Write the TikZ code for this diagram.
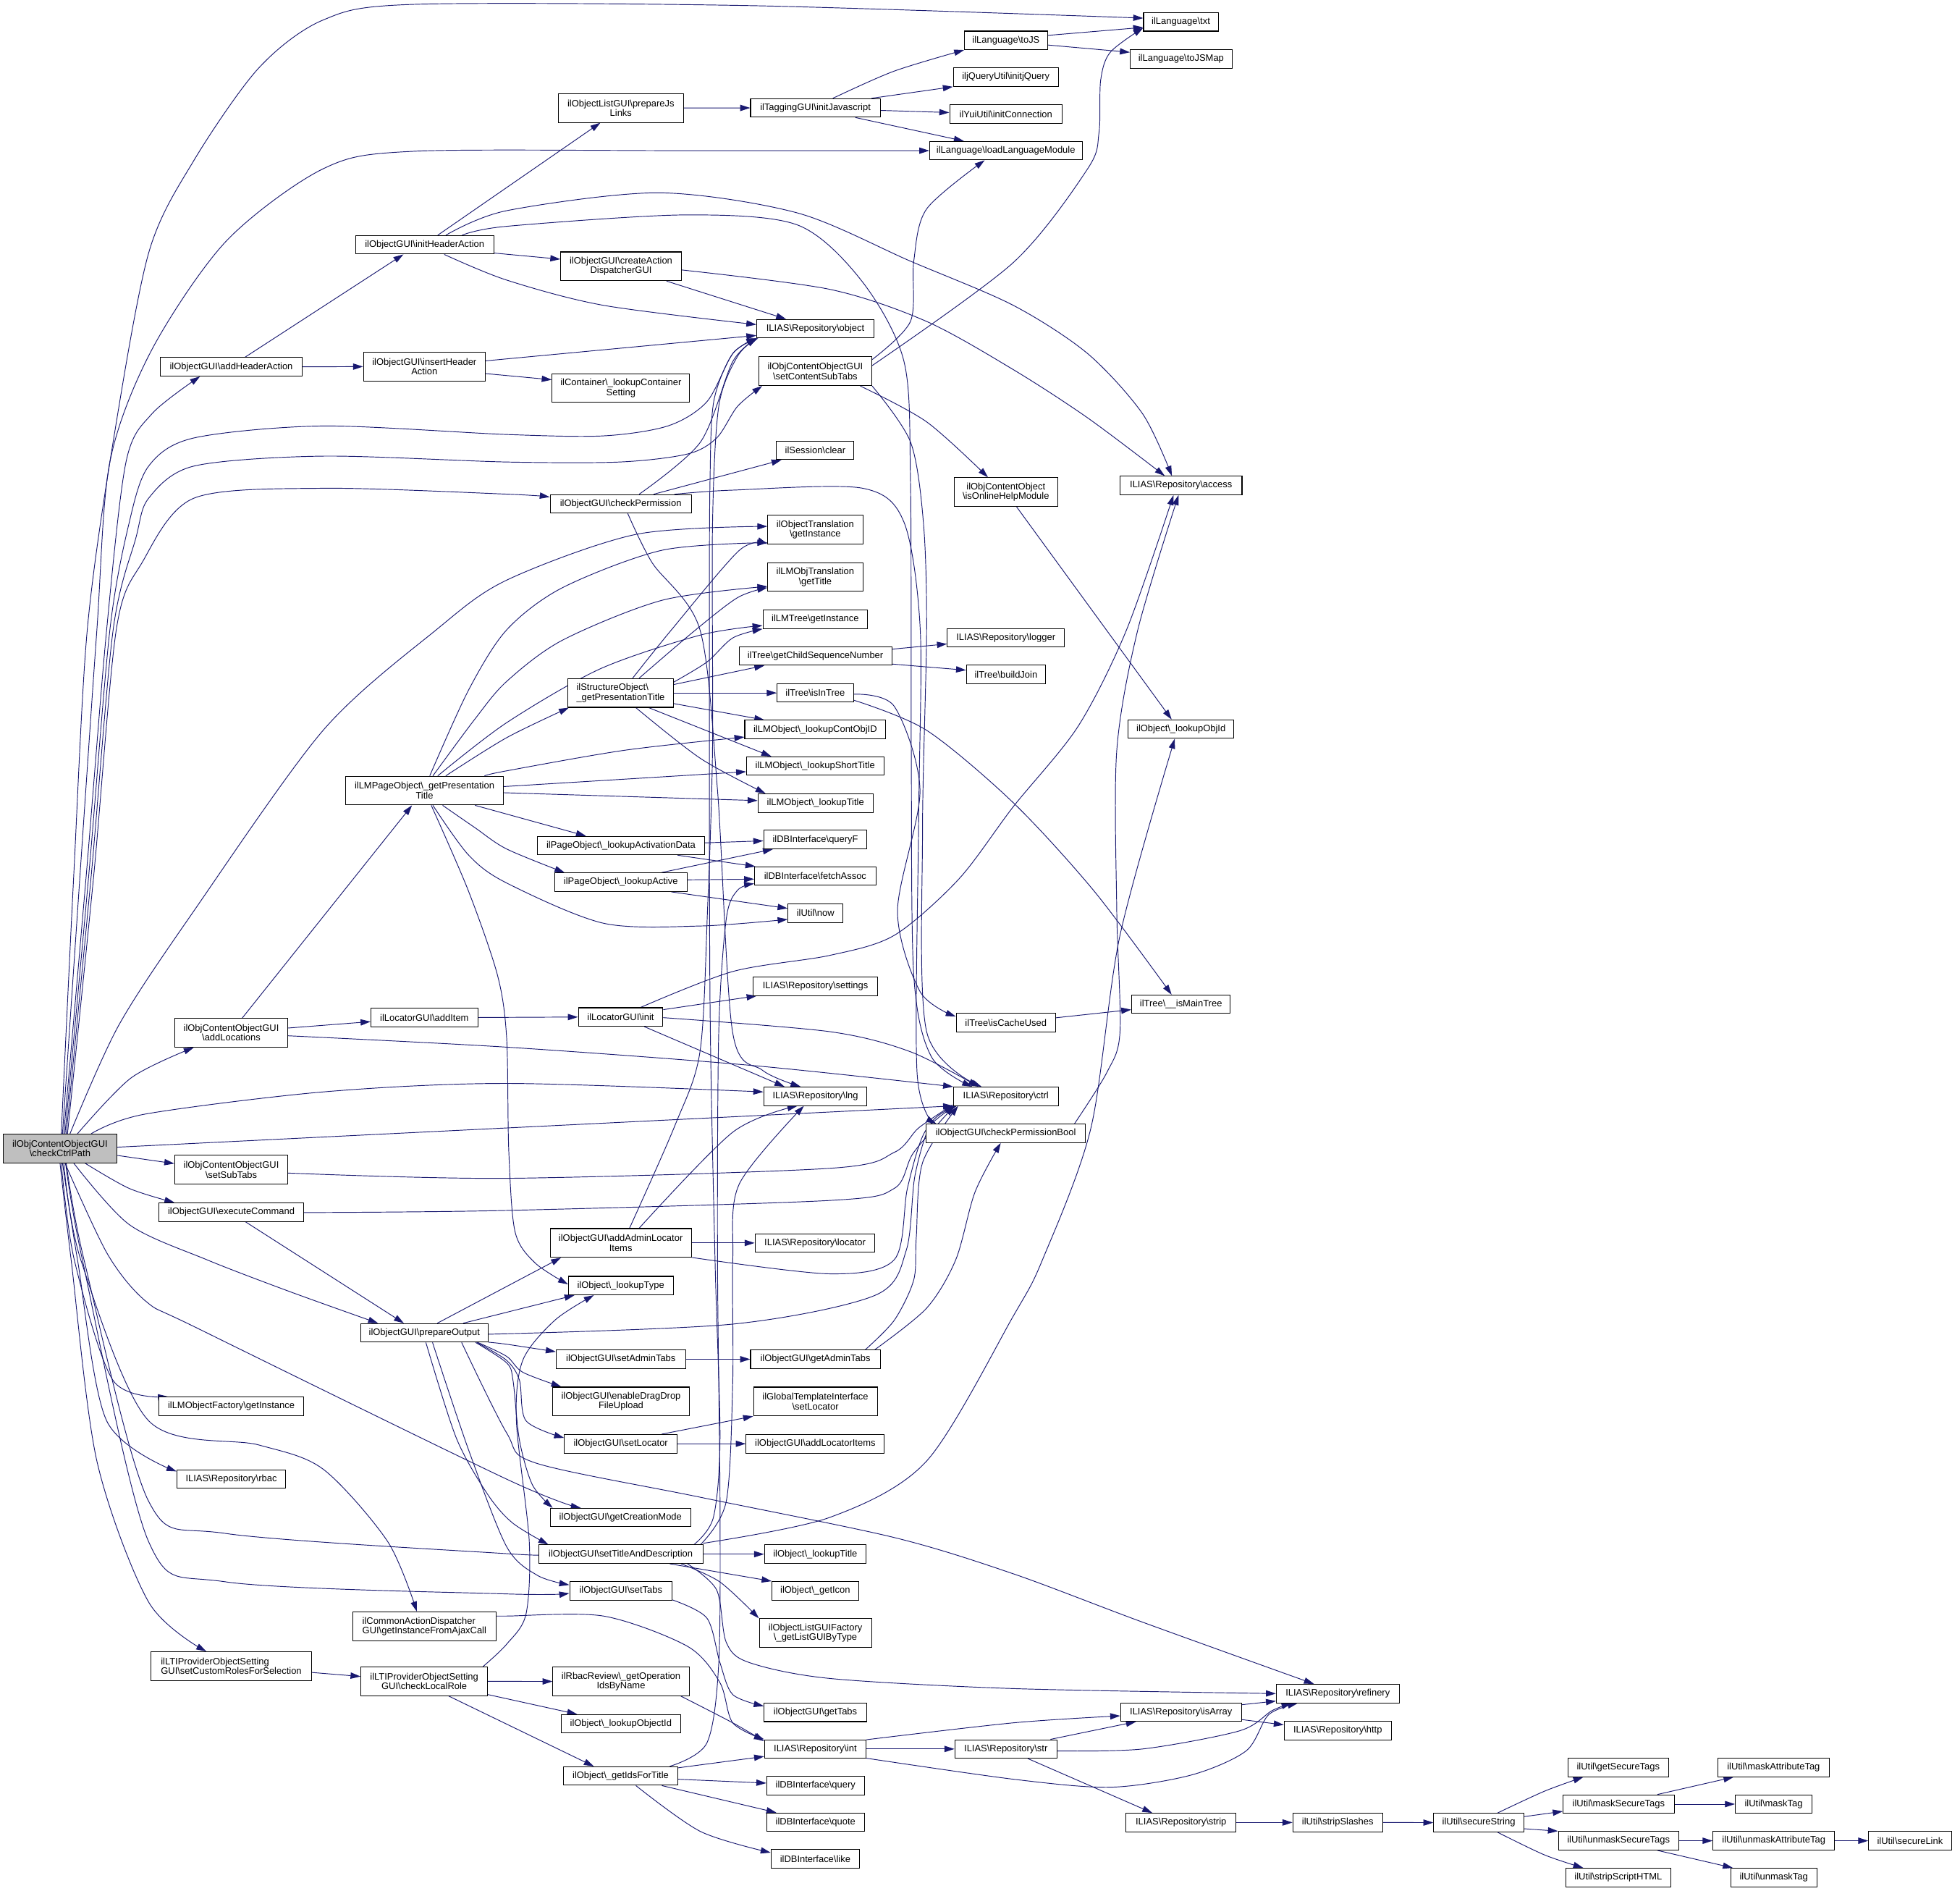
\documentclass[tikz,border=0pt]{standalone}
\usepackage{fontspec}
\setmainfont{Liberation Sans}
\usetikzlibrary{arrows.meta}
\definecolor{edgec}{HTML}{191970}
\definecolor{rootfill}{HTML}{BFBFBF}
\newcommand{\BS}{\textbackslash{}}
\pgfdeclarelayer{bg}
\pgfsetlayers{bg,main}
\begin{document}
\begin{tikzpicture}[x=1pt,y=-1pt,
  nd/.style={draw=black, line width=0.6pt, inner sep=0pt, minimum height=14.8pt, align=center, fill=white, font=\fontsize{7.5}{7.8}\selectfont},
  two/.style={minimum height=23pt},
  lft/.style={align=left},
  edg/.style={draw=edgec, line width=0.55pt, -{Triangle[length=8pt,width=5pt]}}]
\useasboundingbox (0,0) rectangle (1568,1512.4);
% column 1
\node[nd,two,fill=rootfill,minimum width=91pt] (root) at (48,918.5) {ilObjContentObjectGUI\\\BS checkCtrlPath};
% column 2
\node[nd,minimum width=113pt] (addHdr) at (185,293.4) {ilObjectGUI\BS addHeaderAction};
\node[nd,two,minimum width=90.5pt] (addLoc) at (185,826) {ilObjContentObjectGUI\\\BS addLocations};
\node[nd,two,minimum width=90.5pt] (setSub) at (185,935.6) {ilObjContentObjectGUI\\\BS setSubTabs};
\node[nd,minimum width=116pt] (execCmd) at (185,969.5) {ilObjectGUI\BS executeCommand};
\node[nd,minimum width=116pt] (lmFact) at (185,1124.7) {ilLMObjectFactory\BS getInstance};
\node[nd,minimum width=87pt] (rbac) at (185,1183) {ILIAS\BS Repository\BS rbac};
\node[nd,two,lft,minimum width=128pt] (setCust) at (185,1332.5) {ilLTIProviderObjectSetting\\GUI\BS setCustomRolesForSelection};
% column 3
\node[nd,minimum width=110.6pt] (initHdr) at (339.7,195.8) {ilObjectGUI\BS initHeaderAction};
\node[nd,two,minimum width=97.5pt] (insHdr) at (339.5,293.2) {ilObjectGUI\BS insertHeader\\Action};
\node[nd,two,minimum width=125.7pt] (lmPage) at (339.6,632.3) {ilLMPageObject\BS\_getPresentation\\Title};
\node[nd,minimum width=85.5pt] (addItem) at (339.5,813.8) {ilLocatorGUI\BS addItem};
\node[nd,minimum width=102pt] (prepOut) at (339.5,1066) {ilObjectGUI\BS prepareOutput};
\node[nd,two,lft,minimum width=114.4pt] (ajax) at (339.5,1300.7) {ilCommonActionDispatcher\\GUI\BS getInstanceFromAjaxCall};
\node[nd,two,minimum width=101.3pt] (chkRole) at (339.4,1344.7) {ilLTIProviderObjectSetting\\GUI\BS checkLocalRole};
% column 4
\node[nd,two,minimum width=100pt] (prepJs) at (496.7,86.4) {ilObjectListGUI\BS prepareJs\\Links};
\node[nd,two,minimum width=96.5pt] (createAD) at (496.8,213) {ilObjectGUI\BS createAction\\DispatcherGUI};
\node[nd,two,minimum width=110pt] (contSet) at (496.7,310.4) {ilContainer\BS\_lookupContainer\\Setting};
\node[nd,minimum width=113pt] (chkPerm) at (496.6,403) {ilObjectGUI\BS checkPermission};
\node[nd,two,lft,minimum width=84.2pt] (structObj) at (496.5,554.2) {ilStructureObject\BS\\\_getPresentationTitle};
\node[nd,minimum width=133.8pt] (actData) at (496.8,676.3) {ilPageObject\BS\_lookupActivationData};
\node[nd,minimum width=106.3pt] (lookActive) at (496.7,705.6) {ilPageObject\BS\_lookupActive};
\node[nd,minimum width=67.7pt] (locInit) at (496.5,813.4) {ilLocatorGUI\BS init};
\node[nd,two,minimum width=113pt] (adminLoc) at (496.6,994.1) {ilObjectGUI\BS addAdminLocator\\Items};
\node[nd,minimum width=83.8pt] (lookType) at (496.6,1028.2) {ilObject\BS\_lookupType};
\node[nd,minimum width=103.6pt] (setAdmin) at (496.7,1087.1) {ilObjectGUI\BS setAdminTabs};
\node[nd,two,minimum width=109pt] (dragDrop) at (496.8,1120.9) {ilObjectGUI\BS enableDragDrop\\FileUpload};
\node[nd,minimum width=90pt] (setLoc) at (496.6,1154.7) {ilObjectGUI\BS setLocator};
\node[nd,minimum width=112pt] (creMode) at (496.4,1213.7) {ilObjectGUI\BS getCreationMode};
\node[nd,minimum width=131.3pt] (setTitle) at (496.6,1243) {ilObjectGUI\BS setTitleAndDescription};
\node[nd,minimum width=82pt] (setTabs) at (496.7,1272.3) {ilObjectGUI\BS setTabs};
\node[nd,two,minimum width=109pt] (opIds) at (496.8,1344.8) {ilRbacReview\BS\_getOperation\\IdsByName};
\node[nd,minimum width=95.4pt] (lookObjectId) at (496.7,1378.7) {ilObject\BS\_lookupObjectId};
\node[nd,minimum width=91pt] (idsTitle) at (496.5,1420.4) {ilObject\BS\_getIdsForTitle};
% column 5
\node[nd,minimum width=103.7pt] (initJs) at (652.3,86.3) {ilTaggingGUI\BS initJavascript};
\node[nd,minimum width=93.8pt] (obj) at (652.3,262.9) {ILIAS\BS Repository\BS object};
\node[nd,two,minimum width=90.4pt] (contSub) at (652.2,296.9) {ilObjContentObjectGUI\\\BS setContentSubTabs};
\node[nd,minimum width=62pt] (sessClear) at (652.2,360.2) {ilSession\BS clear};
\node[nd,two,minimum width=76pt] (objTrans) at (652.2,423.7) {ilObjectTranslation\\\BS getInstance};
\node[nd,two,minimum width=76pt] (lmTrans) at (652.2,461.5) {ilLMObjTranslation\\\BS getTitle};
\node[nd,minimum width=83.8pt] (lmTree) at (652.2,495.3) {ilLMTree\BS getInstance};
\node[nd,minimum width=122.2pt] (childSeq) at (652.3,524.6) {ilTree\BS getChildSequenceNumber};
\node[nd,minimum width=61pt] (isInTree) at (652.2,554.2) {ilTree\BS isInTree};
\node[nd,minimum width=112.8pt] (contObjID) at (652.2,583.5) {ilLMObject\BS\_lookupContObjID};
\node[nd,minimum width=109.8pt] (shortTitle) at (652.1,612.7) {ilLMObject\BS\_lookupShortTitle};
\node[nd,minimum width=92pt] (lmTitle) at (652.4,642.3) {ilLMObject\BS\_lookupTitle};
\node[nd,minimum width=82.7pt] (queryF) at (652.3,671.5) {ilDBInterface\BS queryF};
\node[nd,minimum width=97.2pt] (fetch) at (652.2,700.7) {ilDBInterface\BS fetchAssoc};
\node[nd,minimum width=44pt] (now) at (652.4,730.3) {ilUtil\BS now};
\node[nd,minimum width=99.4pt] (settings) at (652.3,788.8) {ILIAS\BS Repository\BS settings};
\node[nd,minimum width=82.7pt] (lng) at (652.3,876.8) {ILIAS\BS Repository\BS lng};
\node[nd,minimum width=96pt] (locator) at (652,994.1) {ILIAS\BS Repository\BS locator};
\node[nd,minimum width=103.7pt] (getAdmin) at (652.3,1087.1) {ilObjectGUI\BS getAdminTabs};
\node[nd,two,minimum width=99pt] (tplLoc) at (652.3,1120.9) {ilGlobalTemplateInterface\\\BS setLocator};
\node[nd,minimum width=110.6pt] (addLocItems) at (652.2,1154.7) {ilObjectGUI\BS addLocatorItems};
\node[nd,minimum width=81.2pt] (objTitle) at (652.2,1243) {ilObject\BS\_lookupTitle};
\node[nd,minimum width=69.2pt] (icon) at (652.2,1272.3) {ilObject\BS\_getIcon};
\node[nd,two,minimum width=89.8pt] (listGUI) at (652.3,1306.1) {ilObjectListGUIFactory\\\BS\_getListGUIByType};
\node[nd,minimum width=82pt] (getTabs) at (652.3,1369.5) {ilObjectGUI\BS getTabs};
\node[nd,minimum width=81.2pt] (int) at (652.2,1398.8) {ILIAS\BS Repository\BS int};
\node[nd,minimum width=78pt] (query) at (652.4,1428.1) {ilDBInterface\BS query};
\node[nd,minimum width=78pt] (quote) at (652.4,1457.4) {ilDBInterface\BS quote};
\node[nd,minimum width=70.8pt] (like) at (652.2,1486.7) {ilDBInterface\BS like};
% column 6
\node[nd,minimum width=66.4pt] (toJS) at (804.8,32.3) {ilLanguage\BS toJS};
\node[nd,minimum width=84.2pt] (jq) at (804.7,61.7) {iljQueryUtil\BS initjQuery};
\node[nd,minimum width=90pt] (yui) at (804.7,91.3) {ilYuiUtil\BS initConnection};
\node[nd,minimum width=121.9pt] (loadLM) at (804.7,120.5) {ilLanguage\BS loadLanguageModule};
\node[nd,two,minimum width=82.8pt] (onlineHelp) at (804.7,393.6) {ilObjContentObject\\\BS isOnlineHelpModule};
\node[nd,minimum width=93.6pt] (logger) at (804.7,510.2) {ILIAS\BS Repository\BS logger};
\node[nd,minimum width=63.3pt] (buildJoin) at (804.8,539.4) {ilTree\BS buildJoin};
\node[nd,minimum width=79.6pt] (cacheUsed) at (804.7,818) {ilTree\BS isCacheUsed};
\node[nd,minimum width=83.8pt] (ctrl) at (804.7,876.8) {ILIAS\BS Repository\BS ctrl};
\node[nd,minimum width=127.4pt] (permBool) at (804.6,906.4) {ilObjectGUI\BS checkPermissionBool};
\node[nd,minimum width=81.7pt] (str) at (804.7,1398.8) {ILIAS\BS Repository\BS str};
% column 7
\node[nd,minimum width=59.7pt] (txt) at (944.7,17.5) {ilLanguage\BS txt};
\node[nd,minimum width=81.4pt] (toJSMap) at (944.9,47.1) {ilLanguage\BS toJSMap};
\node[nd,minimum width=97.6pt] (access) at (944.8,388.3) {ILIAS\BS Repository\BS access};
\node[nd,minimum width=84.8pt] (objId) at (944.8,583.1) {ilObject\BS\_lookupObjId};
\node[nd,minimum width=79pt] (mainTree) at (944.8,803.2) {ilTree\BS\_\_isMainTree};
\node[nd,minimum width=96.7pt] (isArray) at (944.8,1369.3) {ILIAS\BS Repository\BS isArray};
\node[nd,minimum width=87.9pt] (strip) at (944.8,1457.6) {ILIAS\BS Repository\BS strip};
% column 8+
\node[nd,minimum width=98.3pt] (refinery) at (1070.2,1354.5) {ILIAS\BS Repository\BS refinery};
\node[nd,minimum width=85.8pt] (http) at (1070.2,1384) {ILIAS\BS Repository\BS http};
\node[nd,minimum width=71.8pt] (stripSl) at (1070.2,1457.6) {ilUtil\BS stripSlashes};
\node[nd,minimum width=72.1pt] (secStr) at (1183,1457.7) {ilUtil\BS secureString};
\node[nd,minimum width=80.4pt] (getSecTags) at (1294.6,1413.6) {ilUtil\BS getSecureTags};
\node[nd,minimum width=88.8pt] (maskSec) at (1294.9,1442.9) {ilUtil\BS maskSecureTags};
\node[nd,minimum width=96.3pt] (unmaskSec) at (1294.8,1472.2) {ilUtil\BS unmaskSecureTags};
\node[nd,minimum width=84.1pt] (stripScript) at (1294.6,1501.6) {ilUtil\BS stripScriptHTML};
\node[nd,minimum width=88.8pt] (maskAttr) at (1418.8,1413.6) {ilUtil\BS maskAttributeTag};
\node[nd,minimum width=61.3pt] (maskTag) at (1418.9,1442.9) {ilUtil\BS maskTag};
\node[nd,minimum width=97.3pt] (unmaskAttr) at (1419,1472.2) {ilUtil\BS unmaskAttributeTag};
\node[nd,minimum width=68.9pt] (unmaskTag) at (1419,1501.6) {ilUtil\BS unmaskTag};
\node[nd,minimum width=66.2pt] (secLink) at (1528,1472.2) {ilUtil\BS secureLink};

\begin{pgfonlayer}{bg}
% ---- root edges
\draw[edg] plot[smooth] coordinates {([xshift=1pt]root.north) (59,700) (69.8,503.8) (90.5,353.5) (118.9,202.4) (155,128.5) (206.8,54.6) (258.5,16) (330.8,3.5) (600,4.5) ([yshift=3pt]txt.west)};
\draw[edg] plot[smooth] coordinates {([xshift=2pt]root.north) (64,700) (77.5,503.8) (87.9,369.5) (121.5,279.6) (181,192.8) (258.5,135) (330.8,121) (550,120.5) (loadLM.west)};
\draw[edg] plot[smooth] coordinates {([xshift=3pt]root.north) (69,700) (85.3,503.8) (100.8,369.5) (121.5,331) ([xshift=-25pt]addHdr.south)};
\draw[edg] plot[smooth] coordinates {([xshift=4pt]root.north) (71,700) (87.9,503.8) (103.4,417.8) (118.9,372.8) (155,350.3) (258.5,340.7) (405.3,347.5) (482.8,348.6) (534.5,340.6) (565.5,321.3) (586.2,282.8) (obj.south west)};
\draw[edg] plot[smooth] coordinates {([xshift=5pt]root.north) (73,700) (90.5,503.8) (108.6,430.6) (118.9,398.5) (155,372.8) (258.5,364.8) (405.3,369.5) (495.8,369.5) (550,363.1) (573.3,350.3) (590,325) ([xshift=3pt]contSub.south west)};
\draw[edg] plot[smooth] coordinates {([xshift=6pt]root.north) (75,700) (93,503.8) (113.7,449.9) (155,398.5) (258.5,390.5) (405.3,395.2) ([yshift=5.5pt]chkPerm.west)};
\draw[edg] plot[smooth] coordinates {([xshift=8pt]root.north) (95,820) (155,728.7) (258.5,584.1) (348.9,503.8) (405.3,464) (508.7,427.4) ([yshift=2.7pt]objTrans.west)};
\draw[edg] plot[smooth] coordinates {([xshift=14pt]root.north) (105,862) ([xshift=-30pt]addLoc.south)};
\draw[edg] plot[smooth] coordinates {([xshift=25pt]root.north) (116.3,891) (258.5,873.3) (405.3,866.5) ([yshift=3.5pt]lng.west)};
\draw[edg] ([yshift=1pt]root.east) -- (ctrl.south west);
\draw[edg] ([yshift=-5.6pt]root.east) -- ([yshift=5pt]setSub.west);
\draw[edg] plot[smooth] coordinates {([xshift=20pt]root.south) (103.4,950.5) ([xshift=-45.4pt]execCmd.north)};
\draw[edg] plot[smooth] coordinates {([xshift=11pt]root.south) (103.4,979.4) (165.4,1007.5) (232.6,1033.3) ([xshift=-37pt]prepOut.north)};
\draw[edg] plot[smooth] coordinates {([xshift=4pt]root.south) (86,1003) (117,1041) (160,1063.3) (405.3,1183) ([xshift=-31.7pt]creMode.north)};
\draw[edg] plot[smooth] coordinates {([xshift=1pt]root.south) (59.4,1007.5) (90.5,1104.1) ([xshift=-50.6pt]lmFact.north)};
\draw[edg] plot[smooth] coordinates {([xshift=2pt]root.south) (62,1007.5) (85.3,1136.3) ([yshift=-1.5pt]rbac.north west)};
\draw[edg] plot[smooth] coordinates {([xshift=3pt]root.south) (64.6,1007.5) (118.9,1136.3) (206.8,1155.6) (258.5,1175) (310.2,1233) ([xshift=-6pt]ajax.north)};
\draw[edg] plot[smooth] coordinates {([xshift=5pt]root.south) (67.2,1007.5) (118.9,1200.7) (181,1226.5) (405.3,1242.6) (setTitle.west)};
\draw[edg] plot[smooth] coordinates {([xshift=4.5pt]root.south) (65.9,1007.5) (118.9,1233) (181,1265.2) (405.3,1274.8) ([yshift=-2pt]setTabs.west)};
\draw[edg] plot[smooth] coordinates {(root.south) (56.9,1007.5) (77.5,1168.5) (118.9,1281.3) ([xshift=-20pt]setCust.north)};
% ---- addHeaderAction / initHeaderAction / insertHeaderAction
\draw[edg] ([xshift=11pt]addHdr.north) -- ([xshift=-17pt]initHdr.south);
\draw[edg] (addHdr.east) -- (insHdr.west);
\draw[edg] ([xshift=10.5pt]initHdr.north) -- ([xshift=-16.4pt]prepJs.south);
\draw[edg] plot[smooth] coordinates {([xshift=17pt]initHdr.north) (405.3,168.5) (526.8,154.2) (637.9,170.3) (728.4,208.9) (810.6,244.2) (870.1,282.8) (914.1,331) ([xshift=-7.3pt]access.north)};
\draw[edg] plot[smooth] coordinates {([xshift=30pt]initHdr.north) (405.3,181) (547.5,171.9) (637.9,179.9) (689.6,225) (723.2,289.2) (728.4,385.6) (729,600) (731,780) (745,845) ([xshift=-27pt]ctrl.north)};
\draw[edg] ([yshift=-6.6pt]initHdr.east) -- ([yshift=5.7pt]createAD.west);
\draw[edg] plot[smooth] coordinates {([xshift=15.7pt]initHdr.south) (405.3,224) (482.8,244.2) ([yshift=3.3pt]obj.west)};
\draw[edg] ([yshift=4.6pt]insHdr.east) -- ([yshift=-5.4pt]obj.west);
\draw[edg] ([yshift=-5.6pt]insHdr.east) -- ([yshift=6.7pt]contSet.west);
% ---- prepareJsLinks / initJavascript / toJS
\draw[edg] (prepJs.east) -- (initJs.west);
\draw[edg] plot[smooth] coordinates {([xshift=14pt]initJs.north) (715,57) (toJS.south west)};
\draw[edg] ([xshift=45pt]initJs.north) -- (jq.south west);
\draw[edg] ([yshift=-2pt]initJs.east) -- ([yshift=1.3pt]yui.west);
\draw[edg] ([xshift=32pt]initJs.south) -- ([xshift=-33.6pt]loadLM.north);
\draw[edg] ([yshift=4pt]toJS.east) -- ([yshift=-4.4pt]txt.west);
\draw[edg] ([yshift=-3.7pt]toJS.east) -- ([yshift=5.3pt]toJSMap.west);
% ---- createActionDispatcherGUI
\draw[edg] ([xshift=36.4pt]createAD.south) -- ([xshift=-23.4pt]obj.north);
\draw[edg] plot[smooth] coordinates {([yshift=-2.9pt]createAD.east) (663.8,231.4) (741.3,257.1) (810.6,295.6) (870.1,334.2) ([xshift=-13pt]access.north)};
% ---- setContentSubTabs
\draw[edg] plot[smooth] coordinates {([yshift=9.3pt]contSub.east) (728.4,257) (731,208.9) (741.3,167.1) ([xshift=-17pt]loadLM.south)};
\draw[edg] plot[smooth] coordinates {([yshift=4.5pt]contSub.east) (810.6,210) (870.1,135) (879.2,106) (880.5,64.3) (888.2,41.8) ([yshift=-4.8pt]txt.west)};
\draw[edg] plot[smooth] coordinates {([xshift=36pt]contSub.south) (741.3,337.4) ([xshift=-14.3pt]onlineHelp.north)};
\draw[edg] plot[smooth] coordinates {(contSub.south east) (728.4,353.5) (738.7,417.7) (741.3,503.8) (738,664.5) (741.3,825.1) ([xshift=-19.5pt]ctrl.north)};
% ---- checkPermission
\draw[edg] plot[smooth] coordinates {([xshift=14.7pt]chkPerm.north) (560.4,353.5) (586.2,289.2) ([xshift=1pt]obj.south west)};
\draw[edg] ([xshift=26.3pt]chkPerm.north) -- ([xshift=-27pt]sessClear.south);
\draw[edg] plot[smooth] coordinates {([xshift=43pt]chkPerm.north) (586.2,392) (689.6,390.4) (723.2,417.7) (736.2,503.8) (735,650) (733.6,857.3) ([xshift=-55.6pt]permBool.north)};
\draw[edg] plot[smooth] coordinates {([xshift=5.6pt]chkPerm.south) (521.6,449.9) (560,503.8) (574,632) (586,825) (610,856) ([xshift=-11.8pt]lng.north)};
% ---- ilLMPageObject::_getPresentationTitle
\draw[edg] plot[smooth] coordinates {([xshift=4.2pt]lmPage.north) (374.8,552) (405.3,503.8) (450,470) (530,440) ([yshift=1.5pt]objTrans.south west)};
\draw[edg] plot[smooth] coordinates {([xshift=6.7pt]lmPage.north) (380,575) (405.3,545) (450,512) (530,480) ([yshift=-7.5pt]lmTrans.west)};
\draw[edg] plot[smooth] coordinates {([xshift=10.6pt]lmPage.north) (405.3,578) (480,535) (560,508) ([yshift=-5pt]lmTree.west)};
\draw[edg] plot[smooth] coordinates {([xshift=17pt]lmPage.north) (405.3,590) ([xshift=1pt]structObj.south west)};
\draw[edg] plot[smooth] coordinates {([xshift=48pt]lmPage.north) (405.3,616.5) (500,600) ([yshift=-6pt]contObjID.west)};
\draw[edg] ([yshift=3.2pt]lmPage.east) -- ([yshift=-4.5pt]shortTitle.west);
\draw[edg] ([yshift=-1.7pt]lmPage.east) -- ([yshift=2pt]lmTitle.west);
\draw[edg] ([xshift=40.4pt]lmPage.south) -- ([xshift=-28pt]actData.north);
\draw[edg] plot[smooth] coordinates {([xshift=14.5pt]lmPage.south) (380,662) (405.3,679) ([xshift=-45pt]lookActive.north)};
\draw[edg] plot[smooth] coordinates {([xshift=6.7pt]lmPage.south) (374.8,683.8) (405.3,706.2) (482.8,738.4) (560.4,740.6) ([yshift=-5pt]now.west)};
\draw[edg] plot[smooth] coordinates {([xshift=5.4pt]lmPage.south) (374.8,712.7) (398,780) (405.3,830) (407,920) (412,985) (428,1010) ([yshift=1pt]lookType.west)};
% ---- ilStructureObject::_getPresentationTitle
\draw[edg] plot[smooth] coordinates {([xshift=9.6pt]structObj.north) (537.1,503.8) (591.4,440.2) ([yshift=0.5pt]objTrans.south west)};
\draw[edg] plot[smooth] coordinates {([xshift=14.8pt]structObj.north) (555,505) (590,478) ([yshift=-8.5pt]lmTrans.west)};
\draw[edg] plot[smooth] coordinates {([yshift=8.6pt]structObj.east) (565.5,529.5) (586.2,510.2) (lmTree.south west)};
\draw[edg] ([yshift=6.7pt]structObj.east) -- ([xshift=-40.8pt]childSeq.south);
\draw[edg] (structObj.east) -- (isInTree.west);
\draw[edg] ([yshift=-8.5pt]structObj.east) -- ([xshift=-40.7pt]contObjID.north);
\draw[edg] ([xshift=22.5pt]structObj.south) -- ([xshift=-35pt]shortTitle.north);
\draw[edg] plot[smooth] coordinates {([xshift=12.2pt]structObj.south) (560.4,606.6) ([xshift=-40pt]lmTitle.north)};
% ---- tree
\draw[edg] ([yshift=5.4pt]childSeq.east) -- ([yshift=-4.8pt]logger.west);
\draw[edg] ([yshift=-6.5pt]childSeq.east) -- ([yshift=3.4pt]buildJoin.west);
\draw[edg] plot[smooth] coordinates {([yshift=-1pt]isInTree.east) (715.4,564.9) (736,632.3) (718,728.7) (736,793) ([yshift=5pt]cacheUsed.west)};
\draw[edg] plot[smooth] coordinates {([yshift=-5.8pt]isInTree.east) (741.3,584.1) (810.6,642) (875.3,712.7) ([xshift=-7.5pt]mainTree.north)};
\draw[edg] ([yshift=4pt]cacheUsed.east) -- ([yshift=-4.3pt]mainTree.west);
% ---- page object
\draw[edg] ([yshift=2.2pt]actData.east) -- ([yshift=-1pt]queryF.west);
\draw[edg] ([xshift=45.3pt]actData.south) -- ([xshift=1pt]fetch.north west);
\draw[edg] ([xshift=32.3pt]lookActive.north) -- ([xshift=-34pt]queryF.south);
\draw[edg] ([yshift=1.9pt]lookActive.east) -- ([yshift=-2.4pt]fetch.west);
\draw[edg] ([xshift=40.3pt]lookActive.south) -- ([yshift=3.8pt]now.west);
% ---- addLocations / locator
\draw[edg] ([xshift=8.8pt]addLoc.north) -- ([xshift=-10pt]lmPage.south);
\draw[edg] ([yshift=3.8pt]addLoc.east) -- ([yshift=-3.3pt]addItem.west);
\draw[edg] plot[smooth] coordinates {([yshift=-2.4pt]addLoc.east) (405.3,837.5) (600,852) (ctrl.north west)};
\draw[edg] (addItem.east) -- (locInit.west);
\draw[edg] plot[smooth] coordinates {([xshift=16pt]locInit.north) (586.2,777) (663.8,764.1) (715.5,748) (767.1,703) (810.6,645.2) (862.4,581) (901.2,503.8) ([xshift=-6pt]access.south)};
\draw[edg] ([yshift=5.9pt]locInit.east) -- ([xshift=3pt]settings.south west);
\draw[edg] plot[smooth] coordinates {([yshift=-0.5pt]locInit.east) (663.8,825.1) (728.4,841.2) ([xshift=-22pt]ctrl.north)};
\draw[edg] ([xshift=19pt]locInit.south) -- ([xshift=-24.7pt]lng.north);
% ---- setSubTabs / executeCommand
\draw[edg] plot[smooth] coordinates {([yshift=-2.6pt]setSub.east) (405.3,942.4) (663.8,934.4) (715.5,921.6) (735,902) ([yshift=1pt]ctrl.south west)};
\draw[edg] plot[smooth] coordinates {([yshift=-0.3pt]execCmd.east) (405.3,968.1) (663.8,960.1) (715.5,950.4) (731,921.6) ([xshift=1pt]ctrl.south west)};
\draw[edg] ([xshift=11.4pt]execCmd.south) -- ([xshift=-16.4pt]prepOut.north);
% ---- addAdminLocatorItems
\draw[edg] plot[smooth] coordinates {([xshift=7pt]adminLoc.north) (540,900) (560,841) (566,728) (570,600) (570,420) (575,325) (590,285) ([xshift=0.5pt]obj.south west)};
\draw[edg] plot[smooth] coordinates {([xshift=14.7pt]adminLoc.north) (586.2,905.5) ([xshift=-14.4pt]lng.south)};
\draw[edg] (adminLoc.east) -- (locator.west);
\draw[edg] plot[smooth] coordinates {([yshift=-11.6pt]adminLoc.east) (663.7,1018.8) (715.4,1007.5) (726,950) (740,905) ([xshift=2pt]ctrl.south west)};
% ---- prepareOutput
\draw[edg] ([xshift=10.3pt]prepOut.north) -- ([xshift=9pt]adminLoc.south west);
\draw[edg] ([xshift=31pt]prepOut.north) -- ([xshift=-37pt]lookType.south);
\draw[edg] plot[smooth] coordinates {([yshift=-1.1pt]prepOut.east) (586.2,1059) (700,1036) (725,1000) (732,940) (745,898) ([xshift=3pt]ctrl.south west)};
\draw[edg] plot[smooth] coordinates {([yshift=-7.5pt]prepOut.east) (405.3,1075.1) ([yshift=6pt]setAdmin.west)};
\draw[edg] plot[smooth] coordinates {([xshift=42.8pt]prepOut.south) (405.3,1084.8) (418.2,1097.5) ([xshift=7pt]dragDrop.north west)};
\draw[edg] plot[smooth] coordinates {([xshift=42pt]prepOut.south) (405.3,1088) (415.6,1104) (420.8,1136.3) ([yshift=4.7pt]setLoc.west)};
\draw[edg] plot[smooth] coordinates {([xshift=41pt]prepOut.south) (405.3,1090) (410.4,1104) (415.6,1152.1) (425.9,1187.5) ([xshift=2pt]creMode.north west)};
\draw[edg] plot[smooth] coordinates {([xshift=1.2pt]prepOut.south) (365,1150) (390,1195) (410,1218) ([xshift=8pt]setTitle.north west)};
\draw[edg] plot[smooth] coordinates {([xshift=6.5pt]prepOut.south) (375,1160) (405.3,1237) (430,1260) ([yshift=-3pt]setTabs.north west)};
\draw[edg] plot[smooth] coordinates {([xshift=29.8pt]prepOut.south) (405.3,1146) (428.6,1170.1) (560.4,1197.5) (715.4,1229.7) (810.6,1258.7) (914.1,1297.4) ([xshift=-19pt]refinery.north)};
% ---- admin tabs, locator
\draw[edg] (setAdmin.east) -- (getAdmin.west);
\draw[edg] plot[smooth] coordinates {([xshift=40pt]getAdmin.north) (715.5,1055.8) (731,1023.6) (733,990) (738,930) ([xshift=4pt]ctrl.south west)};
\draw[edg] plot[smooth] coordinates {([xshift=47.6pt]getAdmin.north) (741.3,1046.2) (764.6,1007.5) (780,953.4) ([xshift=-4pt]permBool.south)};
\draw[edg] ([xshift=32.8pt]setLoc.north) -- (tplLoc.south west);
\draw[edg] (setLoc.east) -- (addLocItems.west);
% ---- setTitleAndDescription
\draw[edg] plot[smooth] coordinates {([xshift=58.6pt]setTitle.north) (570.7,1213.6) (576,1150) (572,1007) (568,800) (567.5,503.8) (568,385) (571,321) (586.2,282.8) ([xshift=1.5pt]obj.south west)};
\draw[edg] plot[smooth] coordinates {([xshift=63.8pt]setTitle.north) (581,1200.7) (586.2,1104.1) (586.2,1007.5) (591.4,947) ([xshift=-9.2pt]lng.south)};
\draw[edg] plot[smooth] coordinates {([yshift=1pt]setTitle.north east) (663.8,1213.6) (741.3,1168.5) (810.6,1052.6) (834,1007.5) (872.7,902.2) (896,748) ([xshift=-5pt]objId.south)};
\draw[edg] (setTitle.east) -- (objTitle.west);
\draw[edg] ([xshift=39.2pt]setTitle.south) -- (icon.north west);
\draw[edg] plot[smooth] coordinates {([xshift=48.3pt]setTitle.south) (575.9,1265.2) (listGUI.north west)};
\draw[edg] plot[smooth] coordinates {([xshift=53.4pt]setTitle.south) (573.3,1271.6) (581,1313.5) (599.2,1329.6) (663.8,1342.4) (810.6,1350.5) (refinery.west)};
\draw[edg] plot[smooth] coordinates {([yshift=-7.3pt]setTabs.east) (565.5,1294.1) (575.9,1329.6) (586.2,1355.3) ([yshift=5pt]getTabs.west)};
% ---- ajax / LTI
\draw[edg] plot[smooth] coordinates {([yshift=8.2pt]ajax.east) (405.3,1292.5) (482.8,1292.5) (550,1316.7) (575.9,1345.7) (586.2,1377.9) (int.north west)};
\draw[edg] ([yshift=-5.1pt]setCust.east) -- ([yshift=3.9pt]chkRole.west);
\draw[edg] plot[smooth] coordinates {([xshift=47pt]chkRole.north) (405.3,1315) (420.8,1291) (423.4,1233) (413.1,1136.3) (418.2,1088) (444,1055.8) ([xshift=-21.5pt]lookType.south)};
\draw[edg] (chkRole.east) -- (opIds.west);
\draw[edg] ([yshift=-10.6pt]chkRole.east) -- ([xshift=13pt]lookObjectId.north west);
\draw[edg] ([xshift=19.6pt]chkRole.south) -- ([xshift=-21.4pt]idsTitle.north);
\draw[edg] plot[smooth] coordinates {([xshift=48pt]opIds.south) (586.2,1377.9) ([yshift=-1.5pt]int.north west)};
% ---- getIdsForTitle
\draw[edg] plot[smooth] coordinates {([xshift=39.3pt]idsTitle.north) (565.5,1394) (575,1330) (576,1200) (574,1007) (575,825) (581,735) (590,712) ([yshift=-6pt]fetch.west)};
\draw[edg] ([yshift=6.5pt]idsTitle.east) -- ([yshift=-6pt]int.west);
\draw[edg] ([yshift=-2.6pt]idsTitle.east) -- ([yshift=2pt]query.west);
\draw[edg] ([xshift=33pt]idsTitle.south) -- ([xshift=8pt]quote.north west);
\draw[edg] plot[smooth] coordinates {([xshift=12.2pt]idsTitle.south) (560.4,1464.8) ([yshift=5pt]like.west)};
% ---- int / str / isArray
\draw[edg] (int.east) -- (str.west);
\draw[edg] plot[smooth] coordinates {([yshift=7.4pt]int.east) (810.6,1377.9) ([yshift=-3pt]isArray.west)};
\draw[edg] plot[smooth] coordinates {([yshift=-7.4pt]int.east) (810.7,1423) (888.2,1429.4) (952.8,1419.7) (996.8,1400.4) (1014.9,1371.4) ([xshift=-32pt]refinery.south)};
\draw[edg] ([xshift=35.7pt]str.north) -- ([xshift=-36pt]isArray.south);
\draw[edg] plot[smooth] coordinates {([yshift=-1.6pt]str.east) (914.1,1398.8) (991.6,1384.3) (1017.5,1368.2) ([xshift=-37pt]refinery.south)};
\draw[edg] ([xshift=17.6pt]str.south) -- ([xshift=-23pt]strip.north);
\draw[edg] ([yshift=5.9pt]isArray.east) -- ([yshift=-6pt]refinery.west);
\draw[edg] ([yshift=-6pt]isArray.east) -- ([yshift=4.5pt]http.west);
% ---- strip chain
\draw[edg] (strip.east) -- (stripSl.west);
\draw[edg] (stripSl.east) -- (secStr.west);
\draw[edg] plot[smooth] coordinates {([xshift=15pt]secStr.north) (1235.5,1432.6) ([xshift=-28pt]getSecTags.south)};
\draw[edg] ([yshift=4.8pt]secStr.east) -- ([yshift=-5.8pt]maskSec.west);
\draw[edg] ([yshift=-4.9pt]secStr.east) -- (unmaskSec.north west);
\draw[edg] plot[smooth] coordinates {([xshift=15pt]secStr.south) (1235.5,1483.5) ([xshift=-28pt]stripScript.north)};
\draw[edg] ([xshift=31pt]maskSec.north) -- ([xshift=-32pt]maskAttr.south);
\draw[edg] (maskSec.east) -- (maskTag.west);
\draw[edg] (unmaskSec.east) -- (unmaskAttr.west);
\draw[edg] ([xshift=31pt]unmaskSec.south) -- ([xshift=2pt]unmaskTag.north west);
\draw[edg] (unmaskAttr.east) -- (secLink.west);
% ---- misc
\draw[edg] ([xshift=8.6pt]onlineHelp.south) -- ([xshift=-7.5pt]objId.north);
\draw[edg] plot[smooth] coordinates {([xshift=55pt]permBool.north) (885.7,857.3) (896,825.1) (893.4,728.7) (893.4,600.2) (910.2,503.8) ([xshift=-2pt]access.south)};
\end{pgfonlayer}
\end{tikzpicture}
\end{document}
